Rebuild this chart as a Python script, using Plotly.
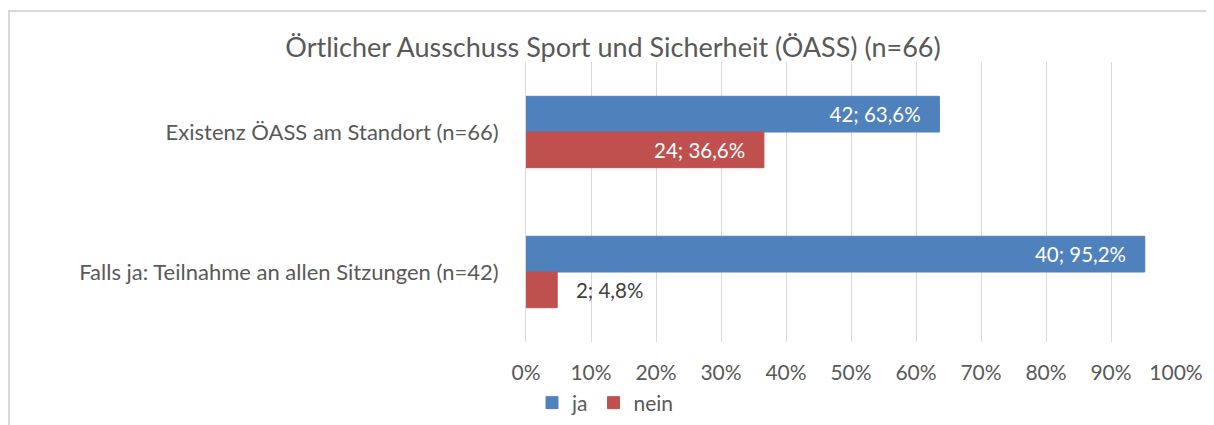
import plotly.graph_objects as go

categories = ["Existenz ÖASS am Standort (n=66)", "Falls ja: Teilnahme an allen Sitzungen (n=42)"]
ja_pct = [63.6, 95.2]
nein_pct = [36.6, 4.8]
ja_n = [42, 40]
nein_n = [24, 2]
tick_vals = [0, 10, 20, 30, 40, 50, 60, 70, 80, 90, 100]
tick_text = ["0%", "10%", "20%", "30%", "40%", "50%", "60%", "70%", "80%", "90%", "100%"]

FONT = "Lato"
TXT = "#595959"
NB = "\u00a0"

def lbl(n, p):
    return [f"{NB*3}{a}; {str(b).replace('.', ',')}%{NB*3}" for a, b in zip(n, p)]

fig = go.Figure()
for name, vals, ns, col in [("ja", ja_pct, ja_n, "#4F81BD"), ("nein", nein_pct, nein_n, "#C0504D")]:
    fig.add_trace(go.Bar(
        y=categories, x=vals, orientation="h", name=name,
        marker=dict(color=col, line=dict(width=1, color=col)),
        text=lbl(ns, vals), textposition="auto", insidetextanchor="end",
        insidetextfont=dict(color="white", size=20.5, family=FONT),
        outsidetextfont=dict(color="#404040", size=20.5, family=FONT),
        constraintext="none", cliponaxis=False,
    ))

W, H = 1206, 417
L, R, T, B = 518, 38, 54, 83
PW, PH = W - L - R, H - T - B
fig.update_layout(
    width=W, height=H,
    paper_bgcolor="white", plot_bgcolor="white",
    barmode="group", bargap=0.49, bargroupgap=0,
    margin=dict(l=L, r=R, t=T, b=B, autoexpand=False),
    font=dict(family=FONT, color=TXT, size=20),
    title=dict(text="Örtlicher Ausschuss Sport und Sicherheit (ÖASS) (n=66)",
               x=(613 - 8) / W, xref="container", xanchor="center",
               y=1 - 40 / H, yref="container", yanchor="middle",
               font=dict(size=27, color=TXT, family=FONT)),
    xaxis=dict(range=[0, 100], tickvals=tick_vals, ticktext=tick_text,
               showgrid=True, gridcolor="#D9D9D9", gridwidth=1,
               zeroline=False, showline=False, ticks="", automargin=False,
               ticklabelstandoff=16,
               tickfont=dict(size=21, color=TXT, family=FONT)),
    yaxis=dict(autorange="reversed", showgrid=False, showline=True,
               linecolor="#D9D9D9", linewidth=1, ticks="", automargin=False,
               ticklabelstandoff=22,
               tickfont=dict(size=22, color=TXT, family=FONT)),
    legend=dict(orientation="h", x=(532 - 8 - L) / PW, xanchor="left",
                y=1 - (403 - 8) / H, yref="container", yanchor="middle",
                font=dict(size=21, color=TXT, family=FONT),
                itemwidth=30, tracegroupgap=0),
    showlegend=True,
    shapes=[dict(type="rect", xref="paper", yref="paper",
                 x0=-(L - 1) / PW, x1=1.2, y0=-0.5, y1=(H - B - 3) / PH,
                 line=dict(color="#D9D9D9", width=2), layer="above")],
)

fig.write_html("out.html")
